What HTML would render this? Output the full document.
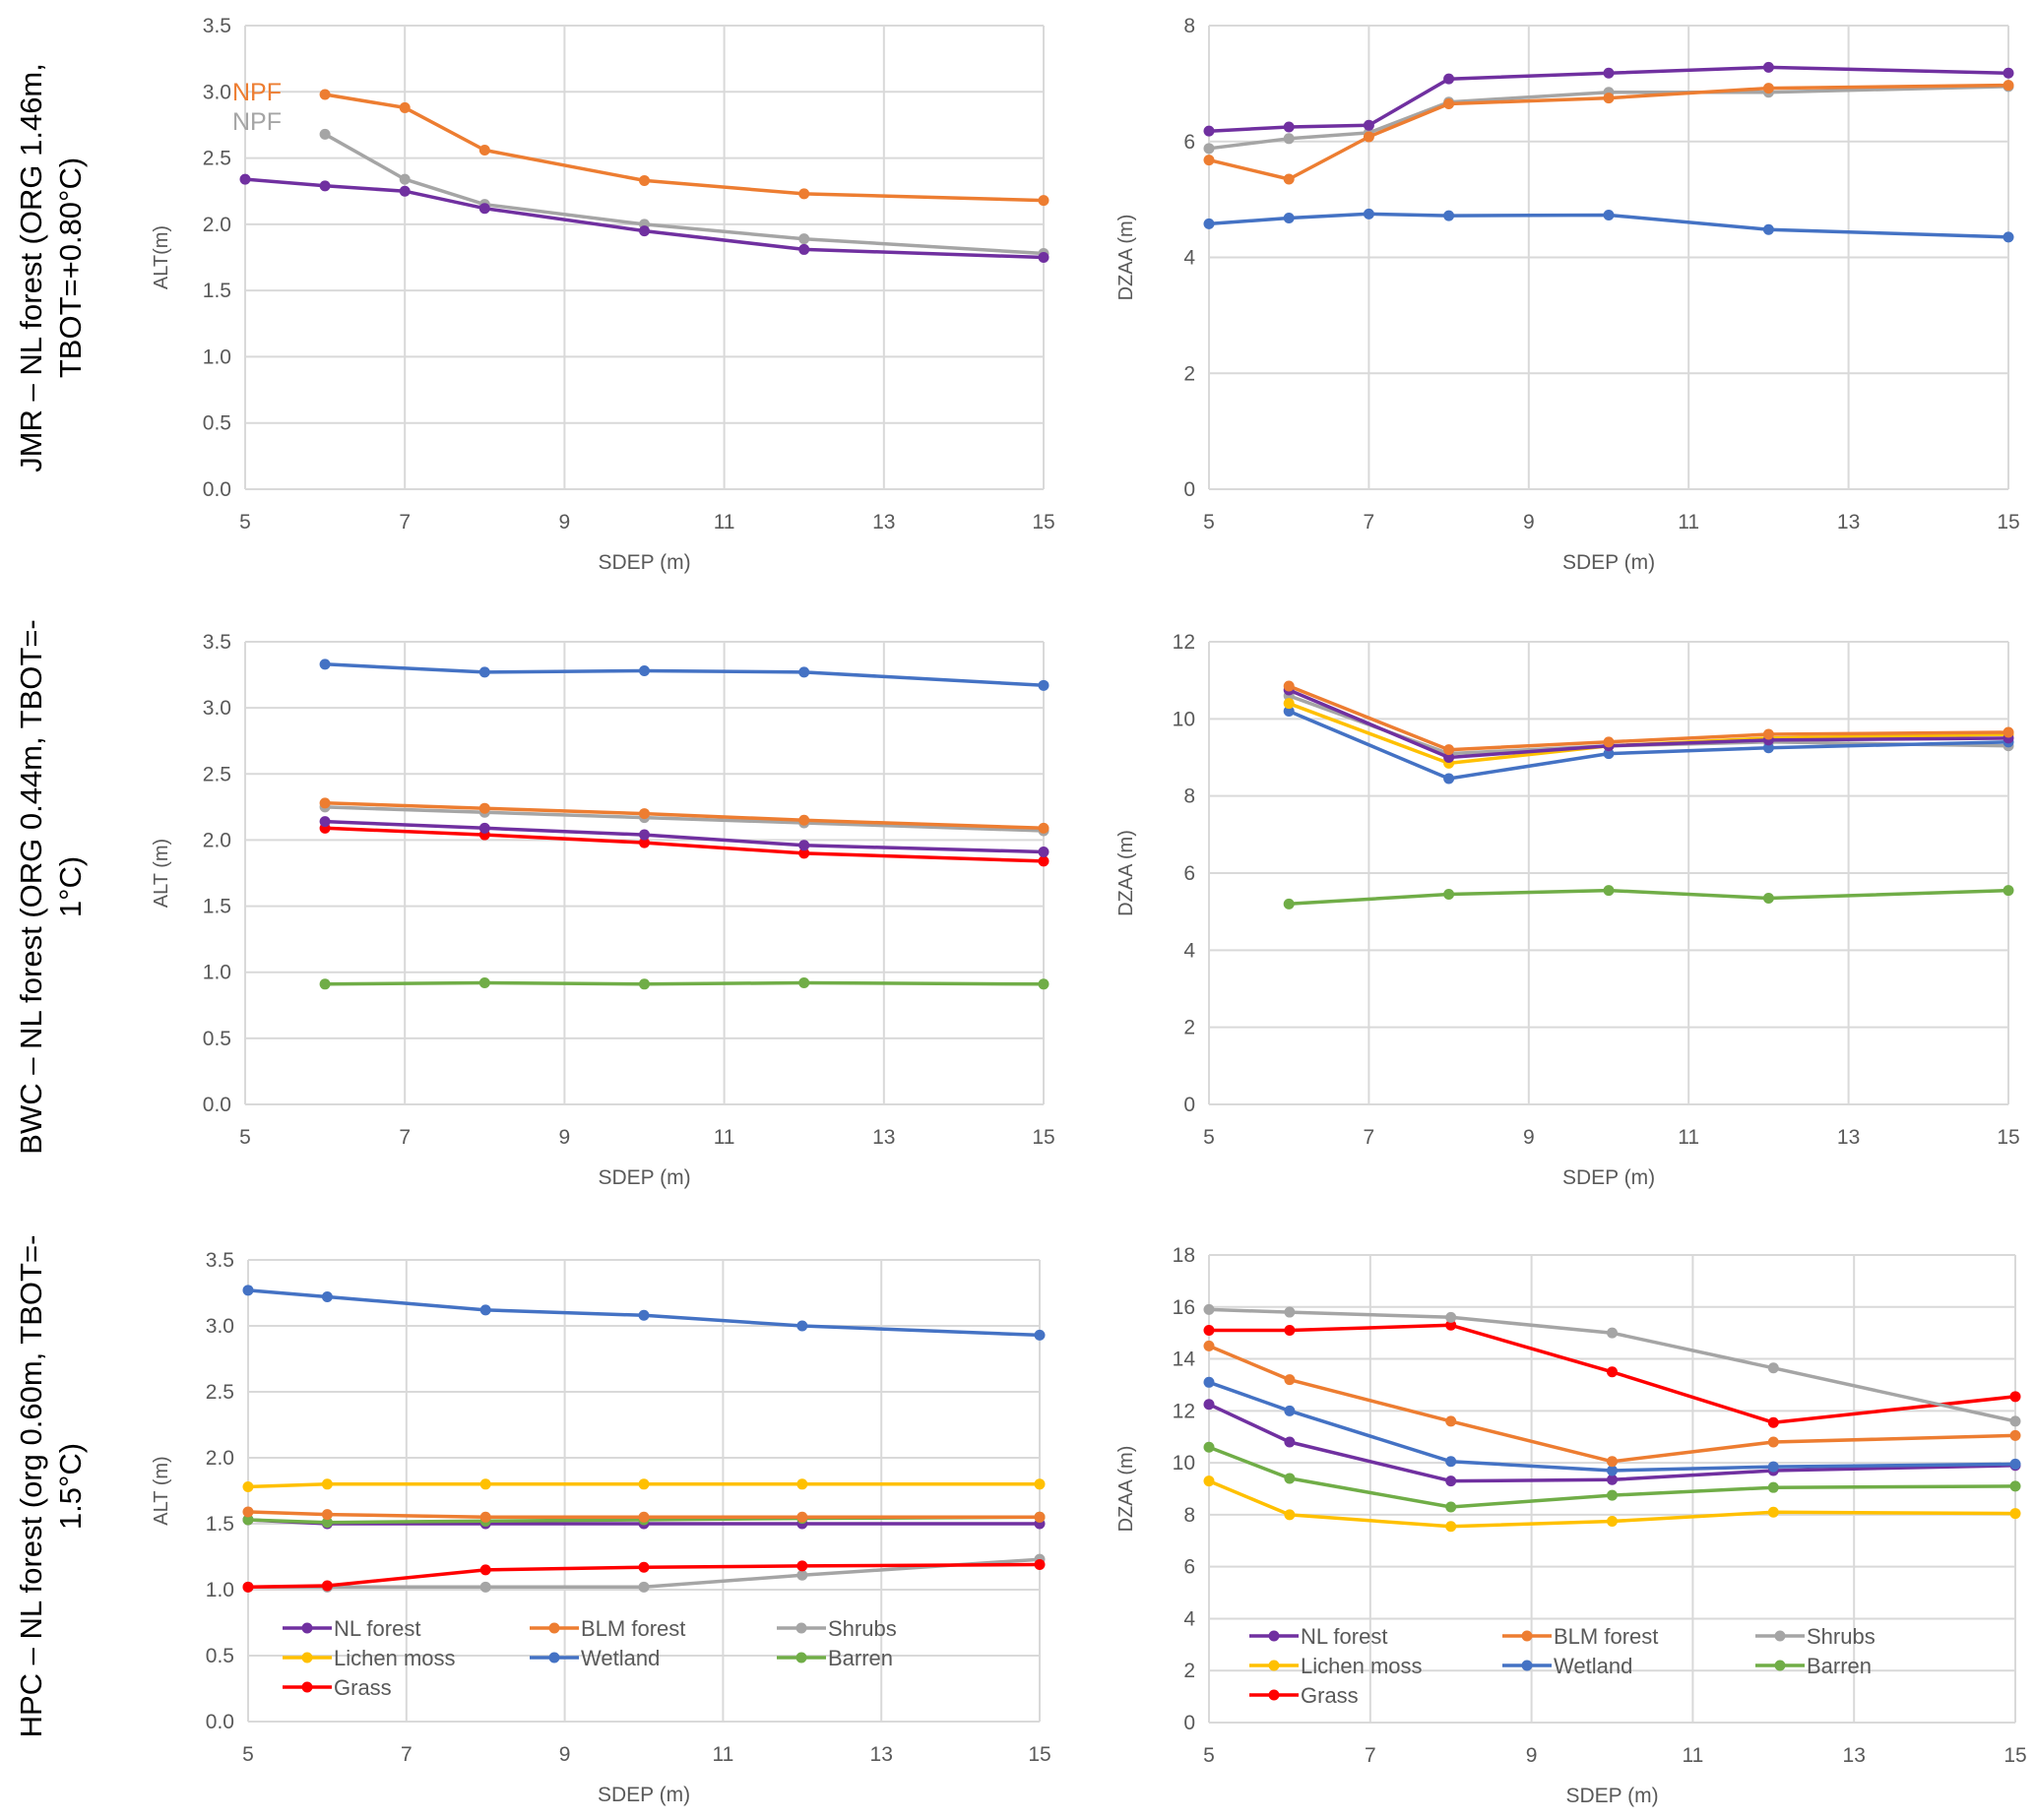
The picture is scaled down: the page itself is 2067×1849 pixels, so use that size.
<!DOCTYPE html>
<html><head><meta charset="utf-8">
<style>
html,body{margin:0;padding:0;background:#fff;}
svg{display:block;font-family:"Liberation Sans",sans-serif;}
</style></head>
<body>
<svg id="fig" width="2067" height="1849" viewBox="0 0 2067 1849" xmlns="http://www.w3.org/2000/svg">
<g>
<text transform="translate(42,272) rotate(-90)" text-anchor="middle" font-size="31" fill="#000">JMR – NL forest (ORG 1.46m,</text>
<text transform="translate(82,272) rotate(-90)" text-anchor="middle" font-size="31" fill="#000">TBOT=+0.80°C)</text>
</g>
<g>
<text transform="translate(42,901) rotate(-90)" text-anchor="middle" font-size="31" fill="#000">BWC – NL forest (ORG 0.44m, TBOT=-</text>
<text transform="translate(82,901) rotate(-90)" text-anchor="middle" font-size="31" fill="#000">1°C)</text>
</g>
<g>
<text transform="translate(42,1510) rotate(-90)" text-anchor="middle" font-size="31" fill="#000">HPC – NL forest (org 0.60m, TBOT=-</text>
<text transform="translate(82,1510) rotate(-90)" text-anchor="middle" font-size="31" fill="#000">1.5°C)</text>
</g>
</svg>
<script>
const COLORS = {nl:'#7030a0', blm:'#ed7d31', shrubs:'#a5a5a5', lichen:'#ffc000', wetland:'#4472c4', barren:'#70ad47', grass:'#ff0000'};
const xTicks = [5,7,9,11,13,15];

// Row 1 JMR
const jmrX = [5,6,7,8,10,12,15];
const jmrAltNL = [2.34,2.29,2.25,2.12,1.95,1.81,1.75];
const jmrAltBLM = [null,2.98,2.88,2.56,2.33,2.23,2.18];
const jmrAltShrubs = [null,2.68,2.34,2.15,2.00,1.89,1.78];
const jmrDzNL = [6.18,6.25,6.28,7.08,7.18,7.28,7.18];
const jmrDzBLM = [5.68,5.35,6.08,6.65,6.75,6.92,6.97];
const jmrDzShrubs = [5.88,6.05,6.15,6.68,6.85,6.85,6.95];
const jmrDzWet = [4.58,4.68,4.75,4.72,4.73,4.48,4.35];

// Row 2 BWC
const bwcX = [6,8,10,12,15];
const bwcAltWet = [3.33,3.27,3.28,3.27,3.17];
const bwcAltBLM = [2.28,2.24,2.20,2.15,2.09];
const bwcAltShrubs = [2.25,2.21,2.17,2.13,2.07];
const bwcAltNL = [2.14,2.09,2.04,1.96,1.91];
const bwcAltGrass = [2.09,2.04,1.98,1.90,1.84];
const bwcAltBarren = [0.91,0.92,0.91,0.92,0.91];
const bwcDzShrubs = [10.6,9.1,9.3,9.4,9.3];
const bwcDzLichen = [10.4,8.85,9.3,9.5,9.6];
const bwcDzWet = [10.2,8.45,9.1,9.25,9.4];
const bwcDzNL = [10.75,9.0,9.3,9.45,9.5];
const bwcDzBLM = [10.85,9.2,9.4,9.6,9.65];
const bwcDzBarren = [5.2,5.45,5.55,5.35,5.55];

// Row 3 HPC
const hpcX = [5,6,8,10,12,15];
const hpcAltWet = [3.27,3.22,3.12,3.08,3.00,2.93];
const hpcAltLichen = [1.78,1.80,1.80,1.80,1.80,1.80];
const hpcAltBLM = [1.59,1.57,1.55,1.55,1.55,1.55];
const hpcAltBarren = [1.53,1.51,1.52,1.53,1.54,1.55];
const hpcAltNL = [1.53,1.50,1.50,1.50,1.50,1.50];
const hpcAltGrass = [1.02,1.03,1.15,1.17,1.18,1.19];
const hpcAltShrubs = [1.02,1.02,1.02,1.02,1.11,1.23];
const hpcDzShrubs = [15.9,15.8,15.6,15.0,13.65,11.6];
const hpcDzGrass = [15.1,15.1,15.3,13.5,11.55,12.55];
const hpcDzBLM = [14.5,13.2,11.6,10.05,10.8,11.05];
const hpcDzWet = [13.1,12.0,10.05,9.7,9.85,9.95];
const hpcDzNL = [12.25,10.8,9.3,9.35,9.7,9.9];
const hpcDzBarren = [10.6,9.4,8.3,8.75,9.05,9.1];
const hpcDzLichen = [9.3,8.0,7.55,7.75,8.1,8.05];

const altTicks = [0,0.5,1,1.5,2,2.5,3,3.5];
const dz8Ticks = [0,2,4,6,8];
const dz12Ticks = [0,2,4,6,8,10,12];
const dz18Ticks = [0,2,4,6,8,10,12,14,16,18];

const NS='http://www.w3.org/2000/svg';
const svg=document.getElementById('fig');
function mk(tag,attrs,parent){const e=document.createElementNS(NS,tag);for(const k in attrs)e.setAttribute(k,attrs[k]);(parent||svg).appendChild(e);return e;}

function chart(name,box,yTicks,yDec,yTitle,xs,series,legend){
  const g=mk('g',{});
  
  
  const ymax=yTicks[yTicks.length-1];
  const sx=v=>box.x0+(v-5)/(15-5)*(box.x1-box.x0);
  const sy=v=>box.y1-v/ymax*(box.y1-box.y0);
  yTicks.forEach(t=>{
    const l=mk('line',{x1:box.x0,x2:box.x1,y1:sy(t),y2:sy(t),stroke:'#d9d9d9','stroke-width':2},g);
    
    
    const tx=mk('text',{x:box.x0-14,y:sy(t)+7,'text-anchor':'end','font-size':21,fill:'#595959'},g);
    tx.textContent=t.toFixed(yDec);
    
    
  });
  xTicks.forEach(t=>{
    const l=mk('line',{x1:sx(t),x2:sx(t),y1:box.y0,y2:box.y1,stroke:'#d9d9d9','stroke-width':2},g);
    
    
    const tx=mk('text',{x:sx(t),y:box.y1+40,'text-anchor':'middle','font-size':21,fill:'#595959'},g);
    tx.textContent=t;
    
    
  });
  const xt=mk('text',{x:(box.x0+box.x1)/2,y:box.y1+81,'text-anchor':'middle','font-size':21,fill:'#595959'},g);
  xt.textContent='SDEP (m)';
  
  
  const yx=box.yt, yy=(box.y0+box.y1)/2;
  const yt=mk('text',{x:yx,y:yy,transform:`rotate(-90 ${yx} ${yy})`,'text-anchor':'middle','font-size':20,fill:'#595959'},g);
  yt.textContent=yTitle;
  
  
  series.forEach(s=>{
    let d='';
    s.v.forEach((v,i)=>{if(v==null)return;d+=(d?'L':'M')+sx(xs[i]).toFixed(1)+' '+sy(v).toFixed(1);});
    const p=mk('path',{d:d,fill:'none',stroke:COLORS[s.c],'stroke-width':3.5,'stroke-linejoin':'round'},g);
    
    
    s.v.forEach((v,i)=>{if(v==null)return;
      const c=mk('circle',{cx:sx(xs[i]),cy:sy(v),r:5.5,fill:COLORS[s.c]},g);
      
      
    });
  });
  if(legend){
    const items=[['nl','NL forest'],['blm','BLM forest'],['shrubs','Shrubs'],['lichen','Lichen moss'],['wetland','Wetland'],['barren','Barren'],['grass','Grass']];
    items.forEach((it,i)=>{
      const col=i%3,row=Math.floor(i/3);
      const lx=legend.x+col*legend.dx, ly=legend.y+row*legend.dy;
      const lg=mk('g',{},g);
      
      
      mk('line',{x1:lx,x2:lx+50,y1:ly,y2:ly,stroke:COLORS[it[0]],'stroke-width':3.5},lg);
      mk('circle',{cx:lx+25,cy:ly,r:5.5,fill:COLORS[it[0]]},lg);
      const t=mk('text',{x:lx+52,y:ly+8,'font-size':22,fill:'#595959'},lg);
      t.textContent=it[1];
    });
  }
  return g;
}

chart('chart-jmr-alt',{x0:249,x1:1060,y0:26,y1:497,yt:170},altTicks,1,'ALT(m)',jmrX,
 [{c:'shrubs',v:jmrAltShrubs},{c:'blm',v:jmrAltBLM},{c:'nl',v:jmrAltNL}]);
chart('chart-jmr-dzaa',{x0:1228,x1:2040,y0:26,y1:497,yt:1150},dz8Ticks,0,'DZAA (m)',jmrX,
 [{c:'wetland',v:jmrDzWet},{c:'shrubs',v:jmrDzShrubs},{c:'blm',v:jmrDzBLM},{c:'nl',v:jmrDzNL}]);
chart('chart-bwc-alt',{x0:249,x1:1060,y0:652,y1:1122,yt:170},altTicks,1,'ALT (m)',bwcX,
 [{c:'barren',v:bwcAltBarren},{c:'grass',v:bwcAltGrass},{c:'nl',v:bwcAltNL},{c:'shrubs',v:bwcAltShrubs},{c:'blm',v:bwcAltBLM},{c:'wetland',v:bwcAltWet}]);
chart('chart-bwc-dzaa',{x0:1228,x1:2040,y0:652,y1:1122,yt:1150},dz12Ticks,0,'DZAA (m)',bwcX,
 [{c:'barren',v:bwcDzBarren},{c:'shrubs',v:bwcDzShrubs},{c:'wetland',v:bwcDzWet},{c:'lichen',v:bwcDzLichen},{c:'nl',v:bwcDzNL},{c:'blm',v:bwcDzBLM}]);
chart('chart-hpc-alt',{x0:252,x1:1056,y0:1280,y1:1749,yt:170},altTicks,1,'ALT (m)',hpcX,
 [{c:'shrubs',v:hpcAltShrubs},{c:'grass',v:hpcAltGrass},{c:'nl',v:hpcAltNL},{c:'barren',v:hpcAltBarren},{c:'blm',v:hpcAltBLM},{c:'lichen',v:hpcAltLichen},{c:'wetland',v:hpcAltWet}],
 {x:287,y:1654,dx:251,dy:30});
chart('chart-hpc-dzaa',{x0:1228,x1:2047,y0:1275,y1:1750,yt:1150},dz18Ticks,0,'DZAA (m)',hpcX,
 [{c:'lichen',v:hpcDzLichen},{c:'barren',v:hpcDzBarren},{c:'nl',v:hpcDzNL},{c:'wetland',v:hpcDzWet},{c:'blm',v:hpcDzBLM},{c:'grass',v:hpcDzGrass},{c:'shrubs',v:hpcDzShrubs}],
 {x:1269,y:1662,dx:257,dy:30});

const n1=mk('text',{x:236,y:102,'font-size':25,fill:'#ed7d31'});
n1.textContent='NPF';


const n2=mk('text',{x:236,y:132,'font-size':25,fill:'#a5a5a5'});
n2.textContent='NPF';


</script>
</body></html>
